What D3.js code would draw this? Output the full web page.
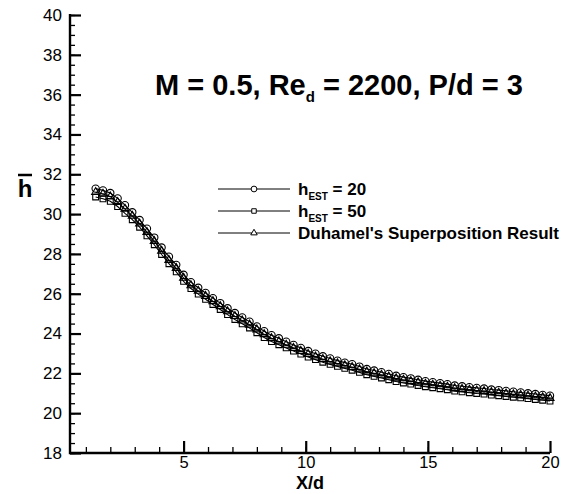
<!DOCTYPE html>
<html>
<head>
<meta charset="utf-8">
<script src="https://cdn.jsdelivr.net/npm/d3@7"></script>
<style>
  body { margin: 0; background: #fff; }
  svg text { font-family: "Liberation Sans", Arial, sans-serif; fill: #000; }
</style>
</head>
<body>
<div id="chart"></div>
<script>
// x/d stations shared by all three series
const xd = [1.4, 1.7, 2.0, 2.3, 2.6, 2.9, 3.2, 3.5, 3.8, 4.1, 4.4, 4.7, 5.0, 5.3, 5.6, 5.9,
  6.2, 6.5, 6.8, 7.1, 7.4, 7.7, 8.0, 8.3, 8.6, 8.9, 9.2, 9.5, 9.8, 10.1, 10.4, 10.7,
  11.0, 11.3, 11.6, 11.9, 12.2, 12.5, 12.8, 13.1, 13.4, 13.7, 14.0, 14.3, 14.6, 14.9,
  15.2, 15.5, 15.8, 16.1, 16.4, 16.7, 17.0, 17.3, 17.6, 17.9, 18.2, 18.5, 18.8, 19.1,
  19.4, 19.7, 20.0];

// h_EST = 20 (circles)
const hEst20 = [31.28, 31.19, 31.06, 30.79, 30.45, 30.09, 29.70, 29.27, 28.82, 28.32, 27.86, 27.45,
  26.95, 26.58, 26.30, 26.04, 25.78, 25.53, 25.27, 25.03, 24.81, 24.60, 24.36, 24.12, 23.92,
  23.76, 23.59, 23.43, 23.28, 23.12, 22.99, 22.86, 22.75, 22.64, 22.54, 22.46, 22.34, 22.22,
  22.14, 22.06, 21.97, 21.88, 21.81, 21.75, 21.68, 21.61, 21.56, 21.51, 21.46, 21.39, 21.35,
  21.31, 21.27, 21.24, 21.19, 21.16, 21.12, 21.08, 21.04, 21.00, 20.96, 20.92, 20.88];

// h_EST = 50 (squares)
const hEst50 = [30.86, 30.77, 30.64, 30.38, 30.04, 29.72, 29.34, 28.91, 28.46, 27.97, 27.51, 27.10,
  26.62, 26.26, 25.98, 25.72, 25.46, 25.21, 24.95, 24.71, 24.49, 24.28, 24.04, 23.80, 23.60,
  23.44, 23.28, 23.12, 22.97, 22.82, 22.69, 22.56, 22.45, 22.35, 22.25, 22.16, 22.05, 21.93,
  21.85, 21.77, 21.68, 21.59, 21.52, 21.46, 21.39, 21.33, 21.28, 21.23, 21.18, 21.11, 21.07,
  21.03, 20.99, 20.96, 20.91, 20.88, 20.84, 20.80, 20.77, 20.73, 20.69, 20.65, 20.61];

// Duhamel's superposition (triangles)
const duhamel = [31.10, 31.01, 30.88, 30.60, 30.26, 29.91, 29.52, 29.09, 28.64, 28.15, 27.69, 27.28,
  26.79, 26.42, 26.14, 25.88, 25.62, 25.37, 25.11, 24.87, 24.65, 24.44, 24.20, 23.96, 23.76,
  23.60, 23.43, 23.27, 23.12, 22.97, 22.84, 22.71, 22.60, 22.50, 22.40, 22.31, 22.20, 22.08,
  22.00, 21.92, 21.83, 21.74, 21.67, 21.61, 21.54, 21.47, 21.42, 21.37, 21.32, 21.25, 21.21,
  21.17, 21.13, 21.10, 21.05, 21.02, 20.98, 20.94, 20.91, 20.87, 20.83, 20.79, 20.75];

const xTicks = [5, 10, 15, 20];
const yTicks = [18, 20, 22, 24, 26, 28, 30, 32, 34, 36, 38, 40];

const series = [
  {name: '20', values: hEst20, symbol: d3.symbolCircle, size: 42},
  {name: '50', values: hEst50, symbol: d3.symbolSquare, size: 34},
  {name: 'duhamel', values: duhamel, symbol: d3.symbolTriangle, size: 28}
];

var svg = d3.select('#chart')
  .append('svg')
  .attr('width', 575)
  .attr('height', 494);

const xScale = d3.scaleLinear().domain([0.35, 20]).range([70, 550]);
const yScale = d3.scaleLinear().domain([18, 40]).range([453, 15]);

// axes (ticks point inward, like the plotting package did)
const yAxis = svg.append('g').attr('transform', 'translate(70,0)');
yAxis.call(d3.axisLeft(yScale).tickValues(d3.range(18, 40.01, 0.5))
  .tickSizeInner(-5).tickSizeOuter(0).tickFormat(''));
yAxis.call(g => g.selectAll('.tick line').attr('stroke-width', 1.3));
const yMajor = svg.append('g').attr('transform', 'translate(70,0)');
yMajor.call(d3.axisLeft(yScale).tickValues(yTicks)
  .tickSizeInner(-11).tickSizeOuter(0).tickPadding(8));
yMajor.selectAll('.tick line').attr('stroke-width', 2.2);
yMajor.selectAll('.tick text').style('font-size', '17px').style('font-family', '"Liberation Sans", Arial, sans-serif');

const xAxis = svg.append('g').attr('transform', 'translate(0,453)');
xAxis.call(d3.axisBottom(xScale).tickValues(d3.range(1, 20, 1))
  .tickSizeInner(-6).tickSizeOuter(0).tickFormat(''));
xAxis.selectAll('.tick line').attr('stroke-width', 1.3);
const xMajor = svg.append('g').attr('transform', 'translate(0,453)');
xMajor.call(d3.axisBottom(xScale).tickValues(xTicks)
  .tickSizeInner(-12).tickSizeOuter(0).tickPadding(3));
xMajor.selectAll('.tick line').attr('stroke-width', 2.2);
xMajor.selectAll('.tick text').style('font-size', '16.5px').style('font-family', '"Liberation Sans", Arial, sans-serif');

svg.selectAll('.domain').remove();

// axis lines
svg.append('path')
  .attr('d', `M${xScale.range()[0]},${yScale.range()[1] - 1}V${yScale.range()[0]}H${xScale.range()[1]}`)
  .attr('fill', 'none').attr('stroke', '#000').attr('stroke-width', 2.4);

// series
const line = d3.line().x((d, i) => xScale(xd[i])).y(d => yScale(d));
series.forEach(s => {
  svg.append('path')
    .attr('d', line(s.values))
    .attr('fill', 'none')
    .attr('stroke', '#000')
    .attr('stroke-width', 1.1);
  svg.append('g').selectAll('path')
    .data(s.values)
    .enter().append('path')
    .attr('d', d3.symbol().type(s.symbol).size(s.size))
    .attr('transform', (d, i) => `translate(${xScale(xd[i])},${yScale(d)})`)
    .attr('fill', 'none')
    .attr('stroke', '#000')
    .attr('stroke-width', 1.1);
});

// axis titles
svg.append('text')
  .attr('x', 310).attr('y', 489)
  .attr('text-anchor', 'middle')
  .style('font-size', '18px').style('font-weight', 'bold')
  .text('X/d');

svg.append('text')
  .attr('x', 25).attr('y', 197)
  .attr('text-anchor', 'middle')
  .style('font-size', '24px').style('font-weight', 'bold')
  .text('h');
svg.append('line')
  .attr('x1', 18).attr('x2', 32).attr('y1', 175).attr('y2', 175)
  .attr('stroke', '#000').attr('stroke-width', 2.5);

// title
const title = svg.append('text')
  .attr('x', 155).attr('y', 95)
  .style('font-size', '29px').style('font-weight', 'bold');
title.append('tspan').text('M = 0.5, Re');
title.append('tspan').attr('dy', 7).style('font-size', '15px').text('d');
title.append('tspan').attr('dy', -7).text(' = 2200, P/d = 3');

// legend
const legendRows = [
  {label: 'h', sub: 'EST', rest: ' = 20', symbol: d3.symbolCircle, size: 26},
  {label: 'h', sub: 'EST', rest: ' = 50', symbol: d3.symbolSquare, size: 20},
  {label: 'Duhamel\'s ', sub: null, rest: 'Superposition', tail: ' Result', symbol: d3.symbolTriangle, size: 18}
];
const legend = svg.append('g');
legendRows.forEach((r, i) => {
  const ly = 189 + i * 22;
  legend.append('line')
    .attr('x1', 218).attr('x2', 290).attr('y1', ly).attr('y2', ly)
    .attr('stroke', '#000').attr('stroke-width', 1);
  legend.append('path')
    .attr('d', d3.symbol().type(r.symbol).size(r.size))
    .attr('transform', `translate(254,${ly})`)
    .attr('fill', '#fff').attr('stroke', '#000').attr('stroke-width', 1);
  const t = legend.append('text')
    .attr('x', 298).attr('y', ly + 6)
    .style('font-size', '17px').style('font-weight', 'bold');
  t.append('tspan').text(r.label);
  if (r.sub) {
    t.append('tspan').attr('dy', 5).style('font-size', '10px').text(r.sub);
    t.append('tspan').attr('dy', -5).text(r.rest);
  } else {
    t.append('tspan').style('font-weight', '600').style('font-size', '17px').text(r.rest);
    t.append('tspan').text(r.tail);
  }
});
</script>
</body>
</html>
